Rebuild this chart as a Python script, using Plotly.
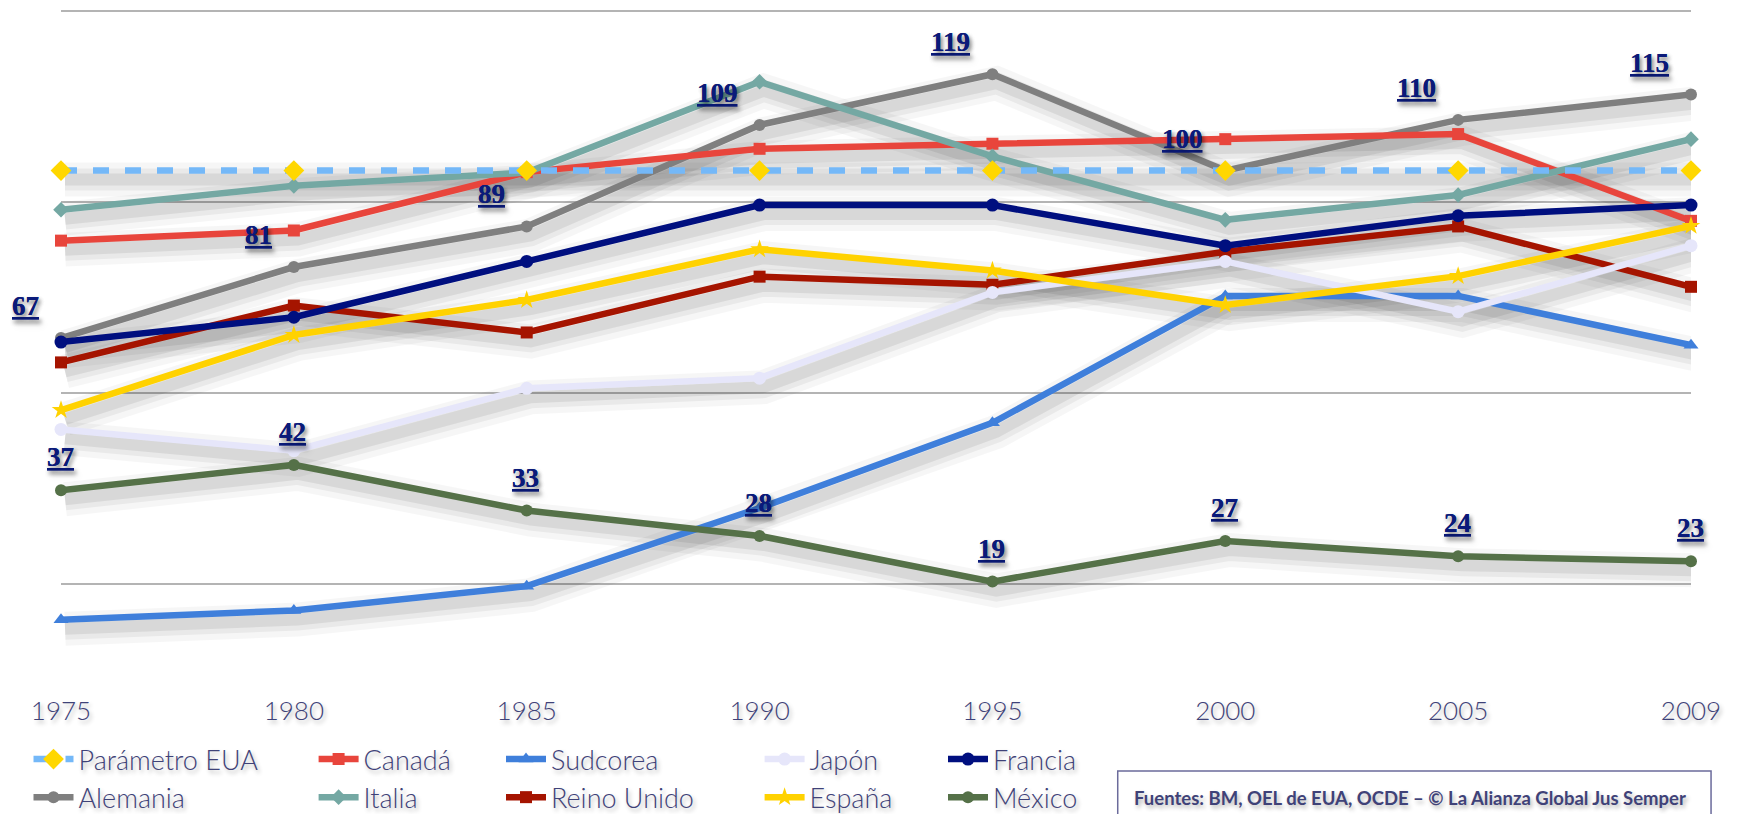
import plotly.graph_objects as go

# ---------------- data ----------------
years = ["1975", "1980", "1985", "1990", "1995", "2000", "2005", "2009"]
parametro_eua = [100, 100, 100, 100, 100, 100, 100, 100]
alemania = [67, 81, 89, 109, 119, 100, 110, 115]
canada = [86.2, 88.2, 99.7, 104.3, 105.3, 106.2, 107.2, 90.1]
italia = [92.3, 97.0, 99.6, 117.5, 102.8, 90.3, 95.2, 106.2]
sudcorea = [11.5, 13.3, 18.1, 33.5, 50.3, 75.3, 75.3, 65.6]
reino_unido = [62.2, 73.4, 68.1, 79.1, 77.5, 84.0, 89.0, 77.1]
japon = [49.0, 44.8, 57.1, 59.1, 76.0, 82.1, 72.2, 85.2]
espana = [52.8, 67.6, 74.5, 84.5, 80.3, 73.5, 79.2, 89.1]
francia = [66.2, 71.1, 82.1, 93.2, 93.2, 85.2, 91.1, 93.2]
mexico = [37, 42, 33, 28, 19, 27, 24, 23]
source_text = "Fuentes: BM, OEL de EUA, OCDE – © La Alianza Global Jus Semper"

# ---------------- styles ----------------
TXT = "#3f4278"
LABEL = "#0a1a7a"
SHADOW_CSS = "2px 3px 4px rgba(0,0,0,0.30)"

# (name, values, color, symbol, marker size, dash, legend id, rank)
series = [
    ("Alemania", alemania, "#7f7f7f", "circle", 12, "solid", "legend", 2),
    ("Canadá", canada, "#e8453c", "square", 12, "solid", "legend2", 1),
    ("Italia", italia, "#74a8a3", "diamond", 12, "solid", "legend2", 2),
    ("Sudcorea", sudcorea, "#3f7fdb", "triangle-up", 13, "solid", "legend3", 1),
    ("Reino Unido", reino_unido, "#a51400", "square", 12, "solid", "legend3", 2),
    ("Japón", japon, "#e6e6fa", "circle", 13, "solid", "legend4", 1),
    ("España", espana, "#ffd200", "star", 14, "solid", "legend4", 2),
    ("Francia", francia, "#000f7f", "circle", 13, "solid", "legend5", 1),
    ("México", mexico, "#557148", "circle", 12, "solid", "legend5", 2),
    ("Parámetro EUA", parametro_eua, "#74b8f8", "diamond", 16, "16px,16px", "legend", 1),
]

fig = go.Figure()

# shadow layer (subplot xy, range shifted a few pixels)
for name, vals, color, sym, msz, dash, lg, rk in series:
    for w, op in [(34, 0.035), (22, 0.05), (12, 0.07)]:
        fig.add_trace(go.Scatter(
            x=years, y=vals, mode="lines", xaxis="x", yaxis="y",
            line=dict(color=f"rgba(0,0,0,{op})", width=w),
            showlegend=False, hoverinfo="skip"))

# main layer (subplot x2y2, same domain, drawn on top)
for name, vals, color, sym, msz, dash, lg, rk in series:
    mcol = "#ffd700" if name == "Parámetro EUA" else color
    fig.add_trace(go.Scatter(
        x=years, y=vals, mode="lines+markers", name=name,
        xaxis="x2", yaxis="y2", cliponaxis=False,
        line=dict(color=color, width=6.5, dash=dash),
        marker=dict(symbol=sym, size=msz, color=mcol),
        legend=lg, legendrank=rk, legendgroup=name))

# data labels (x given as category serial number)
lab_font = dict(family="Liberation Serif", size=27, color=LABEL,
                weight="bold", lineposition="under", shadow=SHADOW_CSS)
ann = []
for i, v in enumerate(alemania):
    ann.append(dict(x=i, y=v, xref="x2", yref="y2", text=str(v), showarrow=False,
                    xanchor="right", yanchor="middle", xshift=-20, yshift=32, font=lab_font))
for i, v in enumerate(mexico):
    ann.append(dict(x=i, y=v, xref="x2", yref="y2", text=str(v), showarrow=False,
                    xanchor="center", yanchor="middle", xshift=-1, yshift=33, font=lab_font))
ann.append(dict(x=0.6572, y=-0.179, xref="paper", yref="paper", text=source_text,
                showarrow=False, xanchor="left", yanchor="middle",
                font=dict(family="Lato", size=18.5, color=TXT, weight="bold", shadow=SHADOW_CSS)))

W, H = 1730, 806
YMAX = 132.05
SX = 4 / 232.9
SY = 9 / 5.074

legend_common = dict(orientation="v", xref="container", yref="container",
                     xanchor="left", yanchor="top", bgcolor="rgba(0,0,0,0)",
                     font=dict(family="Lato", size=27, color=TXT, weight=300, shadow=SHADOW_CSS),
                     itemwidth=40, traceorder="grouped", tracegroupgap=0)
leg_x = [20.5, 305.6, 493, 751.6, 935]
leg_top = 727

layout_legends = {}
for i, lx in enumerate(leg_x):
    key = "legend" if i == 0 else f"legend{i+1}"
    layout_legends[key] = dict(legend_common, x=lx / W, y=1 - leg_top / H)

fig.update_layout(
    width=W, height=H,
    margin=dict(l=53, r=47, t=0, b=136, autoexpand=False),
    paper_bgcolor="white", plot_bgcolor="rgba(0,0,0,0)",
    showlegend=True,
    xaxis=dict(type="category", range=[-SX, 7 - SX], domain=[0, 1], anchor="y",
               showgrid=False, zeroline=False, showticklabels=False, ticks=""),
    yaxis=dict(range=[SY, YMAX + SY], domain=[0, 1], anchor="x",
               tick0=18.6 + SY, dtick=37.64, showgrid=True, gridcolor="#b4b4b4",
               gridwidth=1.5, showticklabels=False, zeroline=False, ticks=""),
    xaxis2=dict(type="category", range=[0, 7], domain=[0, 1], anchor="y2",
                showgrid=False, zeroline=False, showline=False,
                ticks="", ticklabelstandoff=15,
                tickfont=dict(family="Lato", size=26, color=TXT, weight=300, shadow=SHADOW_CSS)),
    yaxis2=dict(range=[0, YMAX], domain=[0, 1], anchor="x2",
                showgrid=False, showticklabels=False, zeroline=False, ticks=""),
    annotations=ann,
    shapes=[dict(type="rect", xref="paper", yref="paper",
                 x0=0.6483, x1=1.0123, y0=-0.25, y1=-0.1388,
                 line=dict(color="#6b6b9b", width=1.5), fillcolor="rgba(0,0,0,0)")],
    **layout_legends,
)

fig.write_html("out.html")
